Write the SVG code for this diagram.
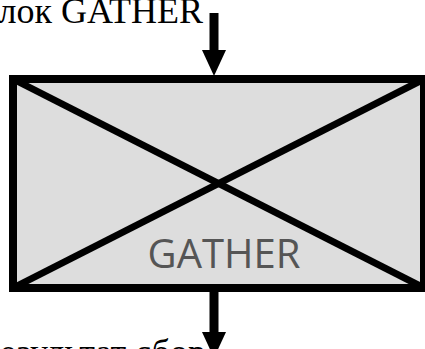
<svg xmlns="http://www.w3.org/2000/svg" width="425" height="349" viewBox="0 0 425 349">
  <style>
    .cap { font-family: "Liberation Serif", "Times New Roman", serif; font-size: 36px; fill: #000; }
    .lbl { font-family: "Open Sans", "Noto Sans", sans-serif; font-size: 40px; fill: #555555; }
    .box { fill: #dddddd; stroke: #000; stroke-width: 8; }
    .diag { stroke: #000; stroke-width: 7; fill: none; }
    .conn { stroke: #000; stroke-width: 9; fill: none; marker-end: url(#head); }
  </style>
  <defs>
    <marker id="head" viewBox="0 0 26 24" refX="2" refY="12" markerWidth="26" markerHeight="24" markerUnits="userSpaceOnUse" orient="auto">
      <path d="M0,0 L26,12 L0,24 Z" fill="#000"/>
    </marker>
  </defs>
  <text class="cap" x="203" y="23" text-anchor="end">Блок GATHER</text>
  <g id="gather">
    <rect class="box" x="13" y="79" width="411" height="209"/>
    <line class="diag" x1="13" y1="79" x2="424" y2="288"/>
    <line class="diag" x1="13" y1="288" x2="424" y2="79"/>
    <text class="lbl" x="224" y="268" text-anchor="middle">GATHER</text>
  </g>
  <g id="connectors">
    <line class="conn" x1="214" y1="13" x2="214" y2="52"/>
    <line class="conn" x1="214" y1="292" x2="214" y2="334"/>
  </g>
  <text class="cap" x="206" y="364" text-anchor="end">результат сбор</text>
</svg>
